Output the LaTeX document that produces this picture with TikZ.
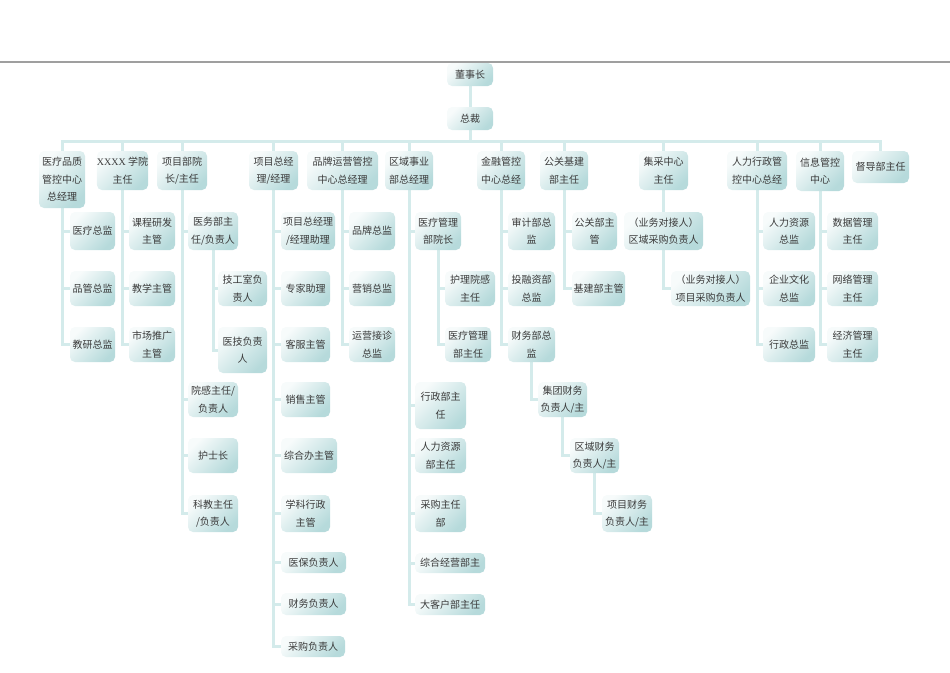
\documentclass[tikz,border=0pt]{standalone}
\usepackage{fontspec}
\setmainfont{Noto Sans CJK SC}
\newfontfamily\latserif{Liberation Serif}
\usetikzlibrary{backgrounds}
\definecolor{boxL}{HTML}{F7FBFB}
\definecolor{boxR}{HTML}{B6DADB}
\definecolor{lnC}{HTML}{D4EBEB}
\definecolor{txtC}{HTML}{3A3A3A}
\tikzset{
  bx/.style={rounded corners=5pt, left color=boxL, right color=boxR, shading angle=45,
    draw=none, inner sep=0pt, align=center, text=txtC,
    font=\fontsize{10}{17.5}\selectfont},
  ln/.style={draw=lnC, line width=3pt}
}
\newcommand\obox[6]{%
  \pgfmathsetmacro\bw{#4-#2}\pgfmathsetmacro\bh{#5-#3}%
  \pgfmathsetmacro\bcx{(#2+#4)/2}\pgfmathsetmacro\bcy{(#3+#5)/2}%
  \node[bx, minimum width=\bw pt, minimum height=\bh pt] (#1) at (\bcx,\bcy) {#6};}
\begin{document}
\begin{tikzpicture}[x=1pt,y=-1pt]
\useasboundingbox (0,0) rectangle (950,672);
\draw[gray!75, line width=1.2pt] (0,62) -- (950,62);
% top
\obox{ceo}{447}{63}{493}{86}{董事长}
\obox{pres}{447}{107}{493}{130}{总裁}
\obox{t1}{39}{151}{85}{208}{医疗品质\\管控中心\\总经理}
\obox{t2}{98}{151}{147}{190}{{\latserif XXXX} 学院\\主任}
\obox{t3}{157}{151}{207}{190}{项目部院\\长/主任}
\obox{t4}{249}{151}{298}{190}{项目总经\\理/经理}
\obox{t5}{307}{151}{378}{190}{品牌运营管控\\中心总经理}
\obox{t6}{385}{151}{433}{190}{区域事业\\部总经理}
\obox{t7}{477}{151}{525}{190}{金融管控\\中心总经}
\obox{t8}{540}{151}{588}{190}{公关基建\\部主任}
\obox{t9}{639}{151}{688}{190}{集采中心\\主任}
\obox{t10}{727}{151}{787}{190}{人力行政管\\控中心总经}
\obox{t11}{796}{151}{844}{191}{信息管控\\中心}
\obox{t12}{852}{151}{909}{183}{督导部主任}
% col1
\obox{a1}{70}{212}{115}{250}{医疗总监}
\obox{a2}{70}{271}{115}{306}{品管总监}
\obox{a3}{70}{327}{115}{362}{教研总监}
% col2
\obox{b1}{129}{212}{175}{250}{课程研发\\主管}
\obox{b2}{129}{271}{175}{306}{教学主管}
\obox{b3}{129}{327}{175}{362}{市场推广\\主管}
% col3
\obox{c1}{188}{212}{238}{250}{医务部主\\任/负责人}
\obox{c11}{218}{271}{267}{306}{技工室负\\责人}
\obox{c12}{218}{327}{267}{373}{医技负责\\人}
\obox{c2}{188}{382}{238}{417}{院感主任/\\负责人}
\obox{c3}{188}{438}{238}{473}{护士长}
\obox{c4}{188}{495}{238}{532}{科教主任\\/负责人}
% col4
\obox{d1}{281}{212}{335}{250}{项目总经理\\/经理助理}
\obox{d2}{281}{271}{330}{306}{专家助理}
\obox{d3}{281}{327}{330}{362}{客服主管}
\obox{d4}{281}{382}{330}{417}{销售主管}
\obox{d5}{281}{438}{337}{473}{综合办主管}
\obox{d6}{281}{495}{330}{532}{学科行政\\主管}
\obox{d7}{281}{552}{346}{573}{医保负责人}
\obox{d8}{281}{593}{346}{615}{财务负责人}
\obox{d9}{281}{636}{345}{657}{采购负责人}
% col5
\obox{e1}{349}{212}{395}{250}{品牌总监}
\obox{e2}{349}{271}{395}{306}{营销总监}
\obox{e3}{349}{327}{395}{362}{运营接诊\\总监}
% col6
\obox{f1}{415}{212}{461}{250}{医疗管理\\部院长}
\obox{f11}{445}{271}{495}{306}{护理院感\\主任}
\obox{f12}{445}{327}{491}{362}{医疗管理\\部主任}
\obox{f2}{415}{382}{466}{429}{行政部主\\任}
\obox{f3}{415}{438}{466}{473}{人力资源\\部主任}
\obox{f4}{415}{495}{466}{532}{采购主任\\部}
\obox{f5}{415}{553}{485}{573}{综合经营部主}
\obox{f6}{415}{594}{485}{615}{大客户部主任}
% col7
\obox{g1}{508}{212}{555}{250}{审计部总\\监}
\obox{g2}{508}{271}{555}{306}{投融资部\\总监}
\obox{g3}{508}{327}{555}{362}{财务部总\\监}
\obox{g4}{538}{382}{587}{417}{集团财务\\负责人/主}
\obox{g5}{570}{438}{619}{473}{区域财务\\负责人/主}
\obox{g6}{602}{495}{652}{532}{项目财务\\负责人/主}
% col8
\obox{h1}{572}{212}{617}{250}{公关部主\\管}
\obox{h2}{572}{271}{625}{306}{基建部主管}
% col9
\obox{i1}{624}{212}{703}{250}{（业务对接人）\\区域采购负责人}
\obox{i2}{671}{271}{750}{306}{（业务对接人）\\项目采购负责人}
% col10
\obox{j1}{763}{212}{815}{250}{人力资源\\总监}
\obox{j2}{763}{271}{815}{306}{企业文化\\总监}
\obox{j3}{763}{327}{815}{362}{行政总监}
% col11
\obox{k1}{827}{212}{878}{250}{数据管理\\主任}
\obox{k2}{827}{271}{878}{306}{网络管理\\主任}
\obox{k3}{827}{327}{878}{362}{经济管理\\主任}
\begin{pgfonlayer}{background}
\coordinate (bus) at (470,141);
\draw[ln] (ceo.south) -- (pres.north);
\draw[ln] (pres.south) -- (bus);
\draw[ln] (t1.north) |- (bus) -| (t12.north);
\foreach \t in {t2,t3,t4,t5,t6,t7,t8,t9,t10,t11} \draw[ln] (\t.north) -- (\t.north |- bus);
\foreach \c in {a1,a2,a3} \draw[ln] (t1.south) |- (\c.west);
\foreach \c in {b1,b2,b3} \draw[ln] (t2.south) |- (\c.west);
\foreach \c in {c1,c2,c3,c4} \draw[ln] (t3.south) |- (\c.west);
\foreach \c in {c11,c12} \draw[ln] (c1.south) |- (\c.west);
\foreach \c in {d1,d2,d3,d4,d5,d6,d7,d8,d9} \draw[ln] (t4.south) |- (\c.west);
\foreach \c in {e1,e2,e3} \draw[ln] (t5.south) |- (\c.west);
\foreach \c in {f1,f2,f3,f4,f5,f6} \draw[ln] (t6.south) |- (\c.west);
\foreach \c in {f11,f12} \draw[ln] (f1.south) |- (\c.west);
\foreach \c in {g1,g2,g3} \draw[ln] (t7.south) |- (\c.west);
\draw[ln] (g3.south) |- (g4.west);
\draw[ln] (g4.south) |- (g5.west);
\draw[ln] (g5.south) |- (g6.west);
\foreach \c in {h1,h2} \draw[ln] (t8.south) |- (\c.west);
\draw[ln] (t9.south) -- (i1.north);
\draw[ln] (i1.south) |- (i2.west);
\foreach \c in {j1,j2,j3} \draw[ln] (t10.south) |- (\c.west);
\foreach \c in {k1,k2,k3} \draw[ln] (t11.south) |- (\c.west);
\end{pgfonlayer}
\end{tikzpicture}
\end{document}
